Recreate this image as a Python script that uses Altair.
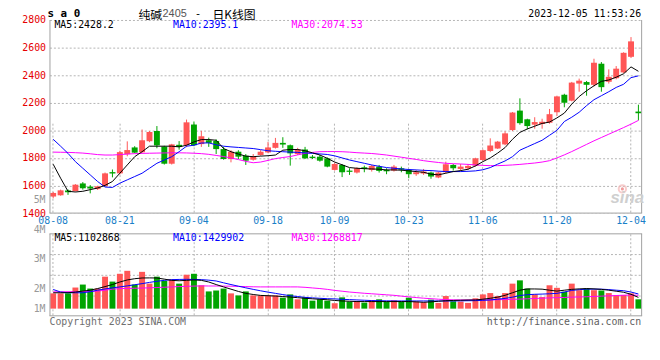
import altair as alt
import pandas as pd

# ---------------- data ----------------
dates = [
    "2023-08-08", "2023-08-09", "2023-08-10", "2023-08-11", "2023-08-14", "2023-08-15", "2023-08-16", "2023-08-17",
    "2023-08-18", "2023-08-21", "2023-08-22", "2023-08-23", "2023-08-24", "2023-08-25", "2023-08-28", "2023-08-29",
    "2023-08-30", "2023-08-31", "2023-09-01", "2023-09-04", "2023-09-05", "2023-09-06", "2023-09-07", "2023-09-08",
    "2023-09-11", "2023-09-12", "2023-09-13", "2023-09-14", "2023-09-15", "2023-09-18", "2023-09-19", "2023-09-20",
    "2023-09-21", "2023-09-22", "2023-09-25", "2023-09-26", "2023-09-27", "2023-09-28", "2023-10-09", "2023-10-10",
    "2023-10-11", "2023-10-12", "2023-10-13", "2023-10-16", "2023-10-17", "2023-10-18", "2023-10-19", "2023-10-20",
    "2023-10-23", "2023-10-24", "2023-10-25", "2023-10-26", "2023-10-27", "2023-10-30", "2023-10-31", "2023-11-01",
    "2023-11-02", "2023-11-03", "2023-11-06", "2023-11-07", "2023-11-08", "2023-11-09", "2023-11-10", "2023-11-13",
    "2023-11-14", "2023-11-15", "2023-11-16", "2023-11-17", "2023-11-20", "2023-11-21", "2023-11-22", "2023-11-23",
    "2023-11-24", "2023-11-27", "2023-11-28", "2023-11-29", "2023-11-30", "2023-12-01", "2023-12-04", "2023-12-05",
]

opens = [1520, 1529, 1564, 1560, 1615, 1592, 1574, 1596, 1697, 1688,
         1827, 1876, 1841, 1921, 1995, 1882, 1758, 1895, 1892, 2042,
         1900, 1928, 1923, 1864, 1792, 1845, 1816, 1787, 1821, 1840,
         1873, 1909, 1892, 1828, 1861, 1809, 1809, 1797, 1713, 1749,
         1708, 1694, 1732, 1713, 1737, 1713, 1708, 1725, 1713, 1682,
         1687, 1694, 1658, 1696, 1749, 1720, 1725, 1744, 1785, 1850,
         1868, 1898, 2002, 2143, 2080, 2041, 2046, 2055, 2131, 2258,
         2215, 2339, 2350, 2330, 2483, 2352, 2378, 2420, 2533, 2136]

highs = [1553, 1570, 1571, 1610, 1625, 1603, 1598, 1694, 1716, 1852,
         1920, 1885, 2006, 1995, 2031, 1888, 1902, 1922, 2078, 2064,
         1996, 1947, 1935, 1880, 1856, 1856, 1828, 1828, 1856, 1916,
         1945, 1950, 1897, 1873, 1880, 1821, 1821, 1804, 1766, 1756,
         1725, 1732, 1744, 1749, 1749, 1725, 1749, 1737, 1720, 1713,
         1720, 1701, 1701, 1773, 1756, 1756, 1756, 1801, 1861, 1942,
         1923, 1993, 2133, 2232, 2084, 2095, 2084, 2155, 2251, 2265,
         2351, 2375, 2358, 2519, 2495, 2442, 2466, 2566, 2676, 2186]

lows = [1507, 1526, 1532, 1556, 1570, 1543, 1568, 1593, 1659, 1680,
        1812, 1834, 1836, 1914, 1870, 1752, 1752, 1860, 1878, 1885,
        1880, 1880, 1828, 1787, 1768, 1792, 1749, 1780, 1816, 1835,
        1868, 1873, 1744, 1821, 1792, 1792, 1773, 1732, 1708, 1661,
        1677, 1687, 1696, 1701, 1694, 1682, 1701, 1696, 1653, 1670,
        1677, 1649, 1653, 1689, 1708, 1706, 1713, 1737, 1780, 1842,
        1865, 1892, 1995, 2041, 2007, 2012, 2012, 2048, 2103, 2167,
        2210, 2280, 2251, 2318, 2280, 2339, 2370, 2415, 2524, 2072]

closes = [1546, 1565, 1551, 1606, 1580, 1578, 1594, 1688, 1687, 1842,
          1857, 1838, 1928, 1988, 1891, 1758, 1898, 1880, 2058, 1892,
          1957, 1909, 1864, 1792, 1845, 1809, 1780, 1809, 1845, 1876,
          1909, 1897, 1833, 1861, 1797, 1799, 1780, 1737, 1756, 1696,
          1699, 1725, 1720, 1742, 1706, 1703, 1737, 1715, 1682, 1696,
          1701, 1665, 1694, 1754, 1725, 1737, 1742, 1797, 1856, 1890,
          1918, 1978, 2129, 2052, 2031, 2060, 2062, 2117, 2246, 2200,
          2346, 2360, 2330, 2490, 2313, 2388, 2447, 2562, 2645, 2124]

ma5 = [1754, 1653, 1558, 1553, 1558, 1570, 1582, 1601, 1629, 1689,
       1749, 1809, 1845, 1885, 1885, 1885, 1885, 1880, 1892, 1916,
       1933, 1933, 1928, 1868, 1845, 1828, 1813, 1809, 1813, 1816,
       1821, 1856, 1861, 1861, 1852, 1837, 1821, 1797, 1770, 1750,
       1730, 1725, 1722, 1720, 1718, 1713, 1713, 1711, 1706, 1701,
       1696, 1682, 1677, 1689, 1701, 1708, 1718, 1742, 1773, 1800,
       1835, 1875, 1935, 1985, 2010, 2030, 2050, 2060, 2090, 2125,
       2190, 2245, 2287, 2323, 2355, 2365, 2385, 2410, 2460, 2428]

ma10 = [1935, 1885, 1833, 1773, 1725, 1677, 1629, 1589, 1586, 1617,
        1641, 1665, 1689, 1725, 1761, 1785, 1809, 1845, 1885, 1892,
        1908, 1909, 1895, 1885, 1880, 1876, 1872, 1868, 1860, 1852,
        1848, 1845, 1842, 1840, 1836, 1833, 1829, 1825, 1815, 1800,
        1785, 1773, 1761, 1749, 1739, 1730, 1725, 1720, 1716, 1713,
        1710, 1708, 1704, 1701, 1701, 1701, 1703, 1706, 1714, 1730,
        1755, 1778, 1809, 1856, 1880, 1904, 1928, 1964, 2000, 2064,
        2095, 2131, 2179, 2222, 2251, 2280, 2311, 2334, 2382, 2395]

ma30 = [1842, 1841, 1840, 1838, 1835, 1830, 1824, 1821, 1821, 1824,
        1828, 1831, 1833, 1834, 1835, 1836, 1837, 1837, 1836, 1834,
        1831, 1826, 1818, 1810, 1800, 1788, 1775, 1765, 1770, 1782,
        1795, 1803, 1810, 1822, 1833, 1840, 1845, 1846, 1846, 1845,
        1842, 1838, 1835, 1832, 1827, 1821, 1813, 1805, 1797, 1789,
        1780, 1773, 1767, 1761, 1758, 1756, 1753, 1749, 1746, 1744,
        1744, 1746, 1749, 1753, 1758, 1763, 1770, 1780, 1800, 1822,
        1846, 1872, 1898, 1924, 1948, 1972, 1996, 2020, 2045, 2072]

# volume in millions
volumes = [1.49, 1.49, 1.49, 2.06, 2.35, 1.96, 1.96, 3.12, 2.64, 3.40,
           3.69, 2.35, 3.59, 2.44, 3.12, 2.73, 2.83, 2.44, 3.31, 3.40,
           2.28, 1.68, 1.77, 1.96, 1.49, 1.29, 1.68, 1.29, 1.29, 1.29,
           1.29, 1.07, 1.39, 0.91, 1.10, 0.78, 0.91, 0.78, 0.53, 1.10,
           0.69, 0.75, 0.59, 0.81, 0.91, 0.69, 0.81, 0.69, 1.07, 0.69,
           0.62, 0.88, 0.56, 1.23, 0.72, 0.69, 0.56, 1.01, 1.39, 1.52,
           1.23, 1.52, 2.44, 2.76, 1.96, 1.39, 1.13, 2.28, 2.03, 1.65,
           2.44, 1.80, 1.96, 1.80, 1.77, 1.52, 1.33, 1.33, 1.49, 0.91]

vma5 = [1.55, 1.55, 1.55, 1.62, 1.71, 1.80, 1.96, 2.15, 2.35, 2.60,
        2.80, 2.92, 2.99, 3.00, 2.99, 2.88, 2.76, 2.72, 2.76, 2.80,
        2.76, 2.60, 2.35, 2.12, 1.90, 1.68, 1.49, 1.38, 1.29, 1.26,
        1.23, 1.18, 1.13, 1.07, 1.01, 0.96, 0.91, 0.87, 0.80, 0.75,
        0.72, 0.69, 0.69, 0.69, 0.69, 0.69, 0.69, 0.69, 0.69, 0.66,
        0.62, 0.66, 0.72, 0.77, 0.80, 0.82, 0.84, 0.85, 0.92, 1.01,
        1.12, 1.30, 1.55, 1.80, 1.92, 1.92, 1.90, 1.80, 1.71, 1.80,
        1.88, 1.93, 1.96, 1.93, 1.88, 1.80, 1.70, 1.60, 1.40, 1.10]

vma10 = [1.87, 1.62, 1.55, 1.55, 1.55, 1.65, 1.80, 1.92, 2.03, 2.12,
         2.22, 2.33, 2.44, 2.56, 2.67, 2.76, 2.83, 2.85, 2.86, 2.85,
         2.83, 2.78, 2.70, 2.52, 2.35, 2.19, 2.03, 1.88, 1.74, 1.61,
         1.49, 1.37, 1.26, 1.18, 1.10, 1.05, 1.01, 0.97, 0.95, 0.91,
         0.88, 0.85, 0.82, 0.79, 0.77, 0.76, 0.75, 0.75, 0.75, 0.75,
         0.75, 0.75, 0.75, 0.75, 0.75, 0.76, 0.77, 0.78, 0.81, 0.85,
         0.92, 1.00, 1.12, 1.28, 1.36, 1.40, 1.42, 1.45, 1.49, 1.62,
         1.78, 1.85, 1.90, 1.90, 1.90, 1.86, 1.80, 1.75, 1.62, 1.43]

vma30 = [1.64, 1.64, 1.65, 1.66, 1.67, 1.69, 1.71, 1.80, 1.90, 1.96,
         1.97, 1.99, 2.01, 2.03, 2.06, 2.09, 2.12, 2.15, 2.18, 2.20,
         2.22, 2.21, 2.21, 2.20, 2.19, 2.17, 2.15, 2.13, 2.12, 2.12,
         2.12, 2.12, 2.12, 2.12, 2.08, 2.02, 1.96, 1.88, 1.78, 1.70,
         1.62, 1.56, 1.50, 1.45, 1.40, 1.35, 1.30, 1.22, 1.15, 1.08,
         1.02, 0.97, 0.92, 0.88, 0.86, 0.85, 0.85, 0.85, 0.85, 0.85,
         0.87, 0.89, 0.91, 0.93, 0.96, 0.99, 1.02, 1.05, 1.07, 1.09,
         1.12, 1.14, 1.16, 1.19, 1.22, 1.25, 1.28, 1.31, 1.33, 1.30]

tick_dates = ["2023-08-08", "2023-08-21", "2023-09-04", "2023-09-18", "2023-10-09",
              "2023-10-23", "2023-11-06", "2023-11-20", "2023-12-04"]
price_ticks = [1400, 1600, 1800, 2000, 2200, 2400, 2600, 2800]
vol_tick_labels = ["1M", "2M", "3M", "4M", "5M"]

title_code = "s a 0"
title_name = "纯碱"
title_contract = "2405"
title_kind = "日K线图"
timestamp = "2023-12-05 11:53:26"
price_legend = ["MA5:2428.2", "MA10:2395.1", "MA30:2074.53"]
vol_legend = ["MA5:1102868", "MA10:1429902", "MA30:1268817"]
copyright_text = "Copyright 2023 SINA.COM"
url_text = "http://finance.sina.com.cn"
watermark = "sina"

# ---------------- styling / layout ----------------
W = 600
H = 300
PH = 195.5            # price panel bottom (px)
VT, VB = 216.5, 299.5 # volume panel top/bottom (px)
RED = "#ff5656"
GREEN = "#00a400"
GRID = "#b4b4b4"
BORDER = "#a0a0a0"
MONO = "DejaVu Sans Mono"
CJK = "Noto Sans CJK SC"
TITLE_Y = -6.0
CJK_Y = -5.5

df = pd.DataFrame({
    "date": dates, "open": opens, "high": highs, "low": lows, "close": closes,
    "ma5": ma5, "ma10": ma10, "ma30": ma30,
    "vol": volumes, "vma5": vma5, "vma10": vma10, "vma30": vma30,
})
df["dir"] = ["up" if c >= o else "down" for o, c in zip(opens, closes)]

xscale = alt.Scale(domain=dates, paddingInner=0, paddingOuter=0)
xaxis = alt.Axis(values=tick_dates, grid=True, gridColor=GRID, gridDash=[2, 2],
                 labels=False, ticks=False, domain=False, title=None, bandPosition=0.5)
X = alt.X("date:O", scale=xscale, axis=xaxis)

color = alt.Color("dir:N", scale=alt.Scale(domain=["up", "down"], range=[RED, GREEN]), legend=None)

pscale = alt.Scale(domain=[1400, 2800], range=[PH, 0], nice=False, zero=False)
paxis = alt.Axis(orient="left", values=price_ticks, format="d", grid=True, gridColor=GRID, gridDash=[2, 2],
                 domain=False, ticks=False, labelColor="#e60000", labelFont=MONO, labelFontSize=10,
                 labelPadding=4, title=None, labelFlush=False)

vscale = alt.Scale(domain=[-0.7, 7.3], range=[VB, VT], nice=False, zero=False)
vaxis = alt.Axis(orient="left", values=[1.3, 3.3, 5.3], grid=True, gridColor=GRID, gridDash=[2, 2],
                 domain=False, ticks=False, labels=False, title=None)

base = alt.Chart(df)

wicks = base.mark_rule(strokeWidth=1).encode(
    x=X, y=alt.Y("low:Q", scale=pscale, axis=paxis), y2="high:Q", color=color)
bodies = base.mark_bar(size=6).encode(
    x=X, y=alt.Y("open:Q", scale=pscale, axis=paxis), y2="close:Q", color=color)


def pline(field, c):
    return base.mark_line(strokeWidth=1, color=c).encode(
        x=X, y=alt.Y(f"{field}:Q", scale=pscale, axis=paxis))


price = alt.layer(wicks, bodies, pline("ma30", "#ff00ff"), pline("ma10", "#0000ff"), pline("ma5", "#000000"))

vbars = base.mark_bar(size=6).encode(
    x=X, y=alt.Y("vol:Q", scale=vscale, axis=vaxis), color=color)


def vline(field, c):
    return base.mark_line(strokeWidth=1, color=c).encode(
        x=X, y=alt.Y(f"{field}:Q", scale=vscale, axis=vaxis))


volume = alt.layer(vbars, vline("vma30", "#ff00ff"), vline("vma10", "#0000ff"), vline("vma5", "#000000"))

one = pd.DataFrame({"k": [0]})

gap = alt.Chart(one).mark_rect(color="white").encode(
    x=alt.value(0), x2=alt.value(W), y=alt.value(PH + 0.5), y2=alt.value(VT - 0.5))

xlabels = alt.Chart(pd.DataFrame({"date": tick_dates})).transform_calculate(
    lab="substring(datum.date, 5)"
).mark_text(font=MONO, fontSize=10, color="#1a80c8", baseline="middle", align="center").encode(
    x=X, y=alt.value(PH + 8.5), text="lab:N")


def rule(x1, y1, x2, y2, c=BORDER, w=1):
    return alt.Chart(one).mark_rule(color=c, strokeWidth=w).encode(
        x=alt.value(x1), y=alt.value(y1), x2=alt.value(x2), y2=alt.value(y2))


borders = [
    rule(0.5, 0, 0.5, PH), rule(W - 0.5, 0, W - 0.5, PH), rule(0, PH, W, PH),
    rule(0.5, VT, 0.5, VB), rule(W - 0.5, VT, W - 0.5, VB), rule(0, VT, W, VT), rule(0, VB, W, VB),
]


def txt(s, x, y, c="#000000", size=10, font=MONO, align="left", weight="normal", style="normal"):
    return alt.Chart(pd.DataFrame({"t": [s]})).mark_text(
        align=align, baseline="middle", font=font, fontSize=size, fontWeight=weight,
        fontStyle=style, color=c).encode(text="t:N", x=alt.value(x), y=alt.value(y))


# small eye logo of the watermark
logo_ring = alt.Chart(one).mark_point(shape="circle", filled=False, size=55, strokeWidth=2,
                                      color="#f4b8b8").encode(x=alt.value(580), y=alt.value(171))
logo_dot = alt.Chart(one).mark_point(shape="circle", filled=True, size=10, opacity=1,
                                     color="#f09a9a").encode(x=alt.value(580), y=alt.value(171))

texts = [
    txt(title_code, -2, TITLE_Y, size=11, weight="bold"),
    txt(title_name, 90, CJK_Y, font=CJK, size=12),
    txt(title_contract, 114.5, TITLE_Y, c="#555555", font="Liberation Sans", size=11),
    txt("-", 150.5, TITLE_Y, align="center", size=11),
    txt(title_kind, 165, CJK_Y, font=CJK, size=12),
    txt(timestamp, W - 1, TITLE_Y, align="right"),
    txt(price_legend[0], 5, 5.3, c="#000000"),
    txt(price_legend[1], 125, 5.3, c="#0000ff"),
    txt(price_legend[2], 245, 5.3, c="#ff00ff"),
    txt(vol_legend[0], 5, VT + 4.3, c="#000000"),
    txt(vol_legend[1], 125, VT + 4.3, c="#0000ff"),
    txt(vol_legend[2], 245, VT + 4.3, c="#ff00ff"),
    txt(copyright_text, 0, VB + 6.3, c="#707070"),
    txt(url_text, W - 1, VB + 6.3, c="#606060", align="right"),
    txt(watermark, W + 2, PH - 15.5, c="#cfcfcf", size=17, font="Liberation Sans",
        align="right", weight="bold", style="italic"),
]
vol_label_y = [VB - 7, VB - 27, VB - 57, VB - 87, VB - 117]
for lab, yy in zip(vol_tick_labels, vol_label_y):
    texts.append(txt(lab, -4, yy, c="#999999", align="right"))

chart = alt.layer(price, volume, gap, xlabels, *borders, logo_ring, logo_dot, *texts).resolve_scale(
    y="independent"
).properties(
    width=W, height=H,
    autosize=alt.AutoSizeParams(type="none"),
    padding={"left": 42, "top": 10, "right": 10, "bottom": 34},
    background="white",
).configure_view(stroke=None)

chart.save("out.html", embed_options={"renderer": "svg", "actions": False})
